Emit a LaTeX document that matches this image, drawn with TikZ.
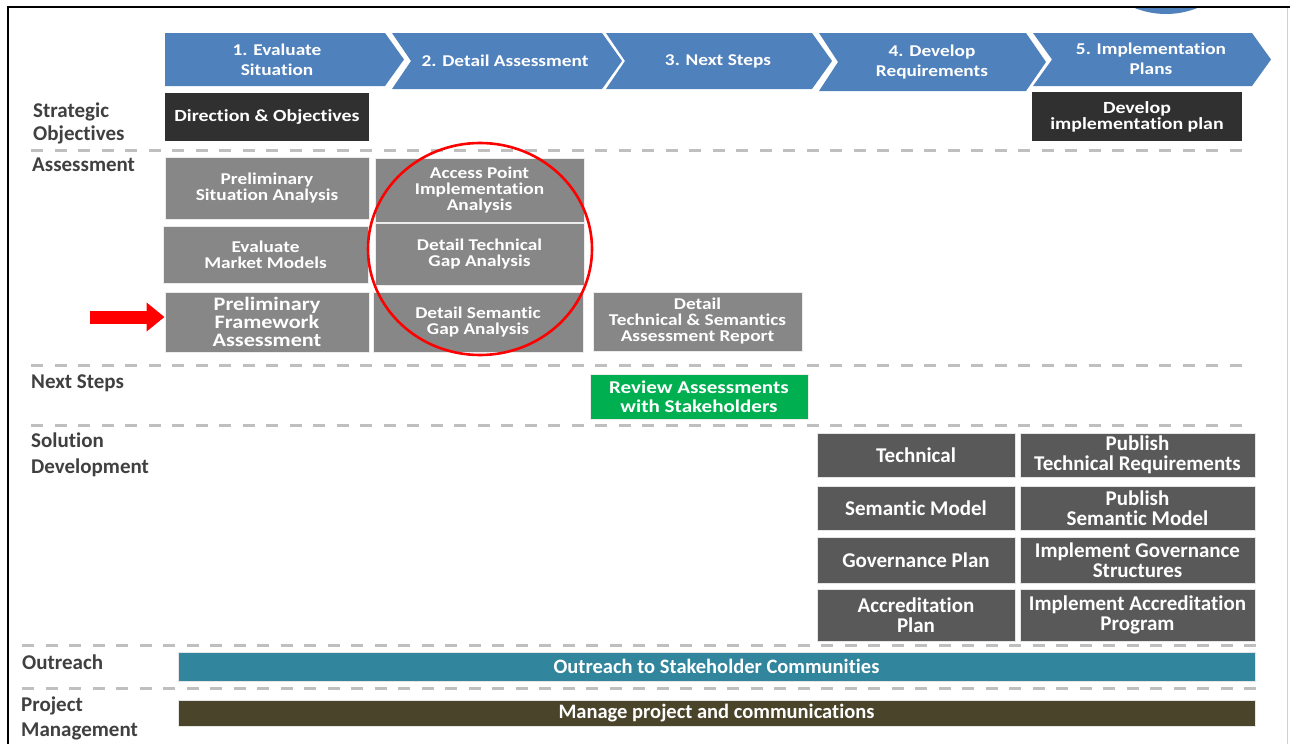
\documentclass[tikz,border=0pt]{standalone}
\usepackage{fontspec}
\setmainfont[Ligatures=NoCommon]{Carlito}
\newfontfamily\sfont[FakeStretch=1.17,Ligatures=NoCommon]{Carlito}
\usetikzlibrary{arrows.meta}
\definecolor{chev}{HTML}{4F81BD}
\definecolor{blk}{HTML}{303030}
\definecolor{gbox}{HTML}{878787}
\definecolor{dbox}{HTML}{595959}
\definecolor{grn}{HTML}{00B050}
\definecolor{teal}{HTML}{31859C}
\definecolor{olive}{HTML}{4A452A}
\definecolor{lanetxt}{HTML}{404040}
\definecolor{dashc}{HTML}{BFBFBF}
\newcommand\bx[7]{%
 \pgfmathsetmacro\bxw{#4-#2}\pgfmathsetmacro\bxh{#5-#3}%
 \pgfmathsetmacro\bxx{(#2+#4)/2}\pgfmathsetmacro\bxy{(#3+#5)/2}%
 \node[#6, minimum width=\bxw pt, minimum height=\bxh pt] (#1) at (\bxx,\bxy) {#7};}
\newcommand\chevA[4]{\fill[chev] (#1,33) -- (#2,33) -- (#3,{(33+#4)/2}) -- (#2,#4) -- (#1,#4) -- cycle;}
\newcommand\chevB[4]{\fill[chev] (#1,33) -- (#2,33) -- (#3,{(33+#4)/2}) -- (#2,#4) -- (#1,#4) -- ({#1+19},{(33+#4)/2}) -- cycle;}
\tikzset{
 box/.style={inner sep=0pt, align=center, text=white},
 blkbox/.style={box, fill=blk, font=\sfont\bfseries\fontsize{17}{16}\selectfont},
 gbx/.style={box, fill=gbox, draw=white!85!gray, line width=1pt, font=\sfont\bfseries\fontsize{16.5}{16}\selectfont},
 dbx/.style={box, fill=dbox, draw=white!80!gray, line width=1pt, font=\bfseries\fontsize{21}{20}\selectfont},
 grnbox/.style={box, fill=grn, draw=white!85!gray, line width=0.6pt, font=\sfont\bfseries\fontsize{18}{19}\selectfont},
 barbox/.style={box, draw=white!80!gray, line width=0.8pt, font=\bfseries\fontsize{20.5}{20}\selectfont},
 chevtxt/.style={inner sep=0pt, align=center, text=white, font=\sfont\bfseries\fontsize{16.5}{20}\selectfont},
 lane/.style={inner sep=0pt, anchor=west, align=left, text=lanetxt, font=\bfseries\fontsize{21}{23}\selectfont},
 sep/.style={draw=dashc, line width=3pt, dash pattern=on 12pt off 11.5pt},
 redarrow/.style={draw=red, line width=13pt, -{Triangle[length=18pt,width=28pt]}}
}
\begin{document}
\begin{tikzpicture}[x=1pt,y=-1pt]
\useasboundingbox (0,0) rectangle (1290,744);
\fill[white] (0,0) rectangle (1290,744);
% partial blue circle at top right
\begin{scope}
 \clip (0,8) rectangle (1290,744);
 \fill[chev] (1166,-70) circle (84);
\end{scope}
% frame
\draw[black, line width=2.5pt] (8,744) -- (8,7) -- (1290,7);
\draw[gray!35, line width=1pt] (1287,8) -- (1287,744);
% dashed lane separators
\draw[sep] (31,150) -- (1247,150);
\draw[sep] (31,365) -- (1247,365);
\draw[sep] (31,425) -- (1247,425);
\draw[sep] (22,645) -- (1262,645);
\draw[sep] (22,688) -- (1262,688);
% chevrons
\chevA{165}{385}{404}{86}
\chevB{392}{602}{622}{89}
\chevB{606}{812}{832}{89}
\chevB{819}{1026}{1046}{91}
\chevB{1033}{1252}{1271}{86}
\node[chevtxt] (c1) at (277,60) {1. Evaluate\\Situation};
\node[chevtxt] (c2) at (505,61) {2. Detail Assessment};
\node[chevtxt] (c3) at (718,61) {3. Next Steps};
\node[chevtxt] (c4) at (932,62) {4. Develop\\Requirements};
\node[chevtxt] (c5) at (1151,59) {5. Implementation\\Plans};
% lane labels
\node[lane] (lStrat) at (33,123) {Strategic\\Objectives};
\node[lane] (lAss) at (32,165) {Assessment};
\node[lane] (lNext) at (31,383) {Next Steps};
\node[lane, font=\bfseries\fontsize{21}{26}\selectfont] (lSol) at (31,455) {Solution\\Development};
\node[lane] (lOut) at (22,662) {Outreach};
\node[lane, font=\bfseries\fontsize{21}{25}\selectfont] (lPM) at (21,718) {Project\\Management};
% strategic objectives
\bx{dir}{165}{93}{369}{141}{blkbox}{Direction \& Objectives}
\bx{dip}{1032}{92}{1242}{141}{blkbox}{Develop\\implementation plan}
% assessment
\bx{psa}{165}{157}{369}{219}{gbx}{Preliminary\\Situation Analysis}
\bx{emm}{163}{226}{368}{283}{gbx}{Evaluate\\Market Models}
\bx{pfa}{165}{292}{369}{352}{gbx, font=\sfont\bfseries\fontsize{19}{18}\selectfont}{Preliminary\\Framework\\Assessment}
\bx{api}{375}{158}{584}{222}{gbx}{Access Point\\Implementation\\Analysis}
\bx{dtg}{375}{223}{584}{285}{gbx}{Detail Technical\\Gap Analysis}
\bx{dsg}{373}{292}{583}{352}{gbx}{Detail Semantic\\Gap Analysis}
\bx{rep}{593}{292}{802}{351}{gbx}{Detail\\Technical \& Semantics\\Assessment Report}
% next steps
\bx{rev}{590}{374}{808}{419}{grnbox}{Review Assessments\\with Stakeholders}
% solution development
\bx{tec}{817}{433}{1015}{477}{dbx}{Technical}
\bx{ptr}{1020}{433}{1255}{477}{dbx}{Publish\\Technical Requirements}
\bx{sem}{817}{486}{1015}{530}{dbx}{Semantic Model}
\bx{psm}{1020}{486}{1255}{530}{dbx}{Publish\\Semantic Model}
\bx{gov}{817}{537}{1015}{583}{dbx}{Governance Plan}
\bx{igs}{1020}{537}{1255}{583}{dbx}{Implement Governance\\Structures}
\bx{acc}{817}{589}{1015}{641}{dbx}{Accreditation\\Plan}
\bx{iap}{1020}{589}{1255}{641}{dbx}{Implement Accreditation\\Program}
% bars
\bx{outr}{178}{652}{1255}{681}{barbox, fill=teal}{Outreach to Stakeholder Communities}
\bx{pm}{178}{700}{1255}{726}{barbox, fill=olive}{Manage project and communications}
% red arrow and circle
\coordinate (arrS) at (90,317);
\draw[redarrow] (arrS) -- (arrS -| pfa.west);
\draw[red, line width=2.6pt] (480,249) ellipse [x radius=112, y radius=106];
\end{tikzpicture}
\end{document}
